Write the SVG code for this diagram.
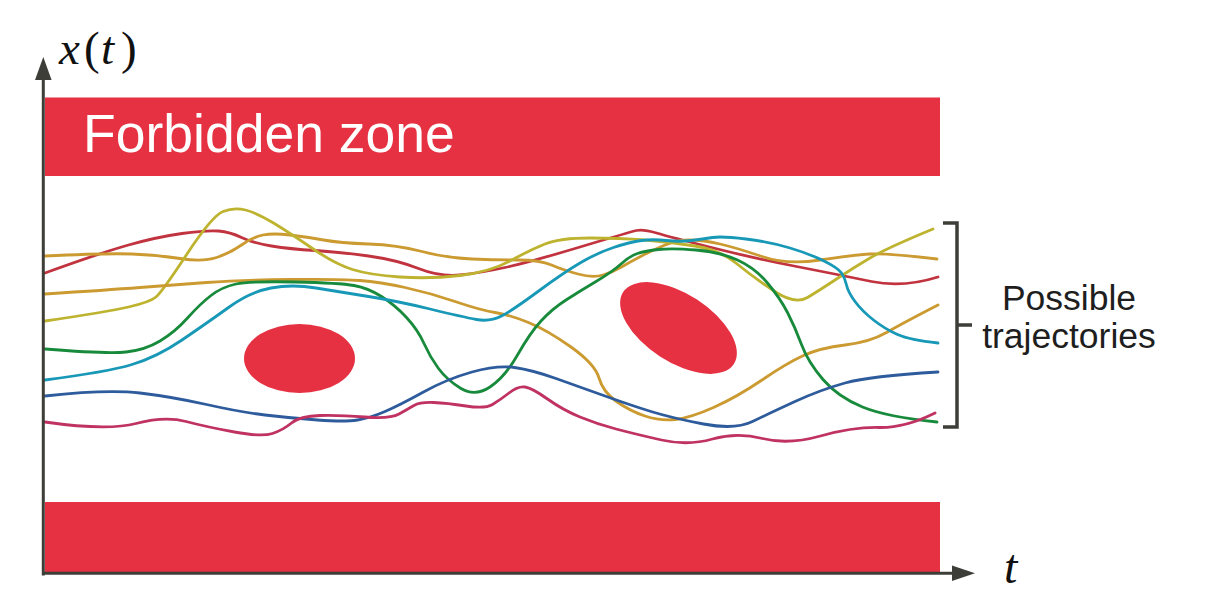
<svg xmlns="http://www.w3.org/2000/svg" width="1220" height="592" viewBox="0 0 1220 592">
<style>
.band{fill:#E63142}
.blob{fill:#E63142}
.traj{fill:none;stroke-width:2.8;stroke-linecap:round;stroke-linejoin:round}
.axis{stroke:#3e3e39;stroke-width:3;fill:none}
.ahead{fill:#3e3e39}
.sans{font-family:"Liberation Sans",Arial,sans-serif}
.math{font-family:"Liberation Serif","Times New Roman",serif}
</style>
<rect width="1220" height="592" fill="#ffffff"/>
<g id="forbidden-top">
<rect class="band" x="45" y="97.5" width="895" height="78.5"/>
<text class="sans" x="83" y="152" font-size="53.5" fill="#ffffff">Forbidden zone</text>
</g>
<g id="forbidden-bottom">
<rect class="band" x="45" y="502" width="895" height="70"/>
</g>
<g id="obstacle-left">
<ellipse class="blob" cx="299.5" cy="358.5" rx="55.5" ry="34.5"/>
</g>
<g id="obstacle-right">
<ellipse class="blob" cx="678.5" cy="328" rx="66" ry="34" transform="rotate(33 678.5 328)"/>
</g>
<g id="trajectories">
<path class="traj" stroke="#C1343F" d="M45,273 Q100,253 128.5,245 Q157,237 182,233.5 Q207,230 218.5,231 Q230,232 241.5,237.5 Q253,243 271.5,246 Q290,249 315,250.5 Q340,252 368.5,256 Q397,260 418.5,268.5 Q440,277 460,275 Q480,273 505,267.5 Q530,262 580,247 Q630,232 636.5,230.5 Q643,229 656.5,233 Q670,237 711.5,247.5 Q753,258 796.5,266.5 Q840,275 871.5,281.5 Q903,288 938,277"/>
<path class="traj" stroke="#CB9A30" d="M45,256 Q107,253 132,254 Q157,255 180,258.5 Q203,262 216.5,257.5 Q230,253 241.5,245 Q253,237 263,235 Q273,233 290,235 Q307,237 323.5,240 Q340,243 368.5,244 Q397,245 422,251.5 Q447,258 472,259 Q497,260 518.5,260 Q540,260 551.5,265 Q563,270 578,274 Q593,278 603,275 Q613,272 621.5,267 Q630,262 641.5,256 Q653,250 665,245 Q677,240 690,240 Q703,240 720,244 Q737,248 762,256.5 Q787,265 820,260 Q853,255 870,254 Q887,253 937,259"/>
<path class="traj" stroke="#BEB32F" d="M45,321 Q107,312 128.5,307 Q150,302 156,297 Q162,292 187,254 Q212,216 223,211.5 Q234,207 245.5,210 Q257,213 273.5,223 Q290,233 312.5,248.5 Q335,264 352.5,269.5 Q370,275 400,277 Q430,279 460,275.5 Q490,272 510,261 Q530,250 545,244 Q560,238 590,238 Q620,238 645,240 Q670,242 695,246 Q720,250 736.5,263.5 Q753,277 774,291 Q795,305 807.5,297.5 Q820,290 836.5,279 Q853,268 870,258 Q887,248 933,229"/>
<path class="traj" stroke="#CB9A30" d="M45,294 Q107,290 140,287.5 Q173,285 206.5,282.5 Q240,280 290,279.5 Q340,279 360,280.5 Q380,282 405,287.5 Q430,293 455,301.5 Q480,310 495,312.5 Q510,315 528.5,322.5 Q547,330 571,347 Q595,364 599,378 Q603,392 616.5,401.5 Q630,411 645,416 Q660,421 675,419.5 Q690,418 713.5,407.5 Q737,397 762,380 Q787,363 803.5,355.5 Q820,348 845,345 Q870,342 886.5,332.5 Q903,323 938,305"/>
<path class="traj" stroke="#188A3B" d="M45,349 Q107,354 126,352 Q145,350 160,341 Q175,332 187.5,318 Q200,304 211,295.5 Q222,287 236,284 Q250,281 295,282 Q340,283 354,285.5 Q368,288 381.5,296.5 Q395,305 406.5,317.5 Q418,330 424,343.5 Q430,357 438.5,368.5 Q447,380 461,388.5 Q475,397 490,387 Q505,377 517.5,355 Q530,333 541,321 Q552,309 566,300 Q580,291 596,281.5 Q612,272 621,264 Q630,256 637.5,253.5 Q645,251 658.5,249.5 Q672,248 696,250 Q720,252 737.5,260 Q755,268 767.5,283 Q780,298 787.5,312.5 Q795,327 801.5,344.5 Q808,362 823,379.5 Q838,397 862.5,407 Q887,417 937,422"/>
<path class="traj" stroke="#1898B7" d="M45,380 Q107,372 132,364.5 Q157,357 182,340 Q207,323 228.5,307.5 Q250,292 271,288 Q292,284 316,288 Q340,292 368.5,296.5 Q397,301 430,309 Q463,317 476.5,319.5 Q490,322 501.5,316 Q513,310 538,291.5 Q563,273 580,263 Q597,253 613.5,247.5 Q630,242 641.5,240.5 Q653,239 666.5,240.5 Q680,242 691.5,240.5 Q703,239 712.5,237.5 Q722,236 746,239 Q770,242 790,248 Q810,254 824,261 Q838,268 841.5,273 Q845,278 846.5,285 Q848,292 855,301.5 Q862,311 873.5,320 Q885,329 897.5,334.5 Q910,340 938,343"/>
<path class="traj" stroke="#2D5B9C" d="M45,396 Q107,389 140,393 Q173,397 206.5,404.5 Q240,412 265,415 Q290,418 317.5,420 Q345,422 357.5,420 Q370,418 385,411.5 Q400,405 423.5,392 Q447,379 472,372 Q497,365 514.5,367.5 Q532,370 556,378.5 Q580,387 605,396 Q630,405 651,411.5 Q672,418 703.5,424 Q735,430 752.5,421.5 Q770,413 795,401.5 Q820,390 845,383 Q870,376 938,372"/>
<path class="traj" stroke="#BF3262" d="M45,422 Q107,431 136,423.5 Q165,416 186,421.5 Q207,427 234.5,432 Q262,437 272.5,433.5 Q283,430 291.5,423 Q300,416 320,415.5 Q340,415 365,417 Q390,419 399,414 Q408,409 414,405.5 Q420,402 433.5,402.5 Q447,403 466,406 Q485,409 492.5,404.5 Q500,400 509,393 Q518,386 525,387 Q532,388 547.5,399 Q563,410 580,417 Q597,424 616,429 Q635,434 661.5,440 Q688,446 712.5,439 Q737,432 762.5,438.5 Q788,445 820.5,436 Q853,427 879,427.5 Q905,428 935,413"/>
</g>
<g id="axes">
<path class="axis" d="M43.3,575.5 V78"/>
<polygon class="ahead" points="43.3,57 35,80 51.6,80"/>
<path class="axis" d="M42,573.3 H954"/>
<polygon class="ahead" points="975,573.3 952,565.5 952,581"/>
<text class="math" font-size="47" fill="#111111"><tspan x="59" y="64" font-style="italic">x</tspan><tspan x="84" y="64">(</tspan><tspan x="101" y="64" font-style="italic">t</tspan><tspan x="121" y="64">)</tspan></text>
<text class="math" x="1004" y="583" font-size="48" font-style="italic" fill="#111111">t</text>
</g>
<g id="bracket">
<path d="M943,223 H957 V427 H943 M957,325 H972" fill="none" stroke="#3e3e39" stroke-width="3.5"/>
<text class="sans" font-size="35.5" fill="#1e1e1e" text-anchor="middle"><tspan x="1069" y="310">Possible</tspan><tspan x="1069" y="348">trajectories</tspan></text>
</g>
</svg>
